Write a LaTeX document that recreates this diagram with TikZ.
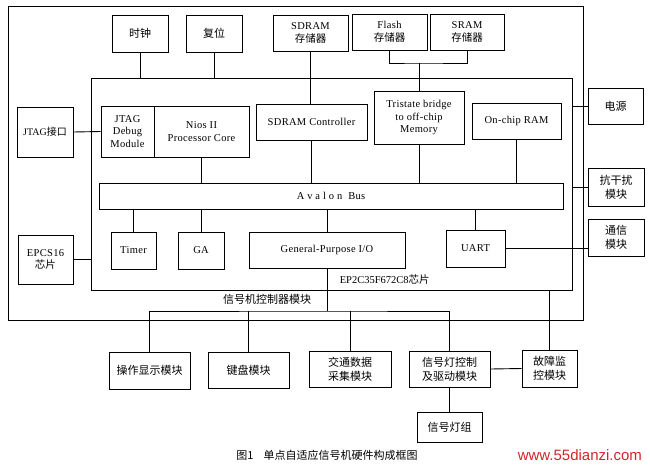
\documentclass[tikz,border=0pt]{standalone}
\usepackage{fontspec}
\setmainfont{Liberation Serif}
\newfontfamily\cjk{Noto Sans CJK SC}
\newfontfamily\wmfont{Liberation Sans}
\newcommand{\zhtext}[1]{{\cjk\fontsize{10.5}{12.5}\selectfont #1}}
\definecolor{wmred}{RGB}{215,35,40}

\begin{document}
\begin{tikzpicture}[x=1pt, y=-1pt, line width=0.9pt,
    blk/.style={draw, inner sep=1pt, align=center, font=\addfontfeatures{LetterSpace=3}\fontsize{10.5}{12.8}\selectfont},
    zh/.style={font=\cjk\fontsize{11}{14}\selectfont}]
    \useasboundingbox (0,0) rectangle (650,472);
    \node[draw, minimum width=575pt, minimum height=314pt] (board) at (295.5,163) {};
    \node[draw, minimum width=481pt, minimum height=212pt] (chip) at (331.5,184) {};
    \node[blk, zh, minimum width=56pt, minimum height=37pt] (clk) at (140,33.5) {时钟};
    \node[blk, zh, minimum width=56pt, minimum height=37pt] (rst) at (214,33.5) {复位};
    \node[blk, minimum width=75pt, minimum height=36pt] (sdram) at (310.5,33) {SDRAM\\\zhtext{存储器}};
    \node[blk, minimum width=75pt, minimum height=36pt] (flash) at (389.5,32) {Flash\\\zhtext{存储器}};
    \node[blk, minimum width=74pt, minimum height=36pt] (sram) at (467,32) {SRAM\\\zhtext{存储器}};
    \node[blk, font=\fontsize{10}{12}\selectfont, minimum width=56pt, minimum height=50pt] (jtagif) at (45,132) {JTAG{\cjk\fontsize{10}{12}\selectfont 接口}};
    \node[blk, minimum width=53pt, minimum height=51pt] (jtagdbg) at (127.5,131.5) {JTAG\\Debug\\Module};
    \node[blk, minimum width=95pt, minimum height=51pt] (nios) at (201.5,131.5) {Nios II\\Processor Core};
    \node[blk, minimum width=111pt, minimum height=36pt] (sdramctl) at (311.5,122) {SDRAM Controller};
    \node[blk, minimum width=90pt, minimum height=53pt] (tristate) at (419,117.5) {Tristate bridge\\to off-chip\\Memory};
    \node[blk, minimum width=89pt, minimum height=36pt] (onchip) at (516.5,121) {On-chip RAM};
    \node[blk, zh, minimum width=55pt, minimum height=36pt] (power) at (615.5,106) {电源};
    \node[blk, minimum width=464pt, minimum height=26pt] (bus) at (331,196) {A v a l o n\ \ Bus};
    \node[blk, minimum width=45pt, minimum height=37pt] (timer) at (133.5,250.5) {Timer};
    \node[blk, minimum width=46pt, minimum height=37pt] (ga) at (201,250.5) {GA};
    \node[blk, minimum width=156pt, minimum height=36pt] (gpio) at (327,250) {General-Purpose I/O};
    \node[blk, minimum width=59pt, minimum height=37pt] (uart) at (475.5,248.5) {UART};
    \node[blk, minimum width=55pt, minimum height=49pt] (epcs) at (45.5,259.5) {EPCS16\\\zhtext{芯片}};
    \node[blk, zh, minimum width=56pt, minimum height=38pt] (antijam) at (616,187) {抗干扰\\模块};
    \node[blk, zh, minimum width=56pt, minimum height=37pt] (comm) at (616,237.5) {通信\\模块};
    \node[anchor=west, font=\fontsize{10.5}{12}\selectfont] (chipname) at (336,280) {EP2C35F672C8\zhtext{芯片}};
    \node[zh] (ctlname) at (267,299) {信号机控制器模块};
    \node[blk, zh, minimum width=81pt, minimum height=37pt] (disp) at (149.5,370.5) {操作显示模块};
    \node[blk, zh, minimum width=81pt, minimum height=36pt] (keyb) at (248.5,370) {键盘模块};
    \node[blk, zh, minimum width=82pt, minimum height=36pt] (traffic) at (350,369) {交通数据\\采集模块};
    \node[blk, zh, minimum width=81pt, minimum height=36pt] (light) at (449.5,369) {信号灯控制\\及驱动模块};
    \node[blk, zh, minimum width=55pt, minimum height=37pt] (fault) at (549.5,368.5) {故障监\\控模块};
    \node[blk, zh, minimum width=65pt, minimum height=30pt] (lamps) at (449.5,427) {信号灯组};
    \node[zh, font=\cjk\fontsize{11}{13}\selectfont] (caption) at (327,455) {图1\hspace{10pt}单点自适应信号机硬件构成框图};
    \node[anchor=west, text=wmred, font=\wmfont\fontsize{15}{15}\selectfont] (site) at (514,455) {www.55dianzi.com};
    \coordinate (mem) at (419,63);
    \coordinate (ctlbus) at (327,311);
    \draw (clk.south) -- (clk.south |- chip.north);
    \draw (rst.south) -- (rst.south |- chip.north);
    \draw (sdram.south) -- (sdram.south |- sdramctl.north);
    \draw (flash.south) |- (mem) -| (sram.south);
    \draw (tristate.north) -- (mem);
    \draw (jtagif.east) -- (jtagdbg.west);
    \draw (power.west) -- (power.west -| chip.east);
    \draw (antijam.west) -- (antijam.west -| chip.east);
    \foreach \n in {nios, sdramctl, tristate, onchip}
        \draw (\n.south) -- (\n.south |- bus.north);
    \foreach \n in {timer, ga, gpio, uart}
        \draw (\n.north) -- (\n.north |- bus.south);
    \draw (epcs.east) -- (epcs.east -| chip.west);
    \draw (uart.east) -- (uart.east -| comm.west);
    \draw (gpio.south) -- (ctlbus);
    \draw (disp.north) |- (ctlbus) -| (light.north);
    \draw (keyb.north) -- (keyb.north |- ctlbus);
    \draw (traffic.north) -- (traffic.north |- ctlbus);
    \draw (fault.north) -- (fault.north |- chip.south);
    \draw (light.east) -- (fault.west);
    \draw (light.south) -- (lamps.north);
\end{tikzpicture}
\end{document}
